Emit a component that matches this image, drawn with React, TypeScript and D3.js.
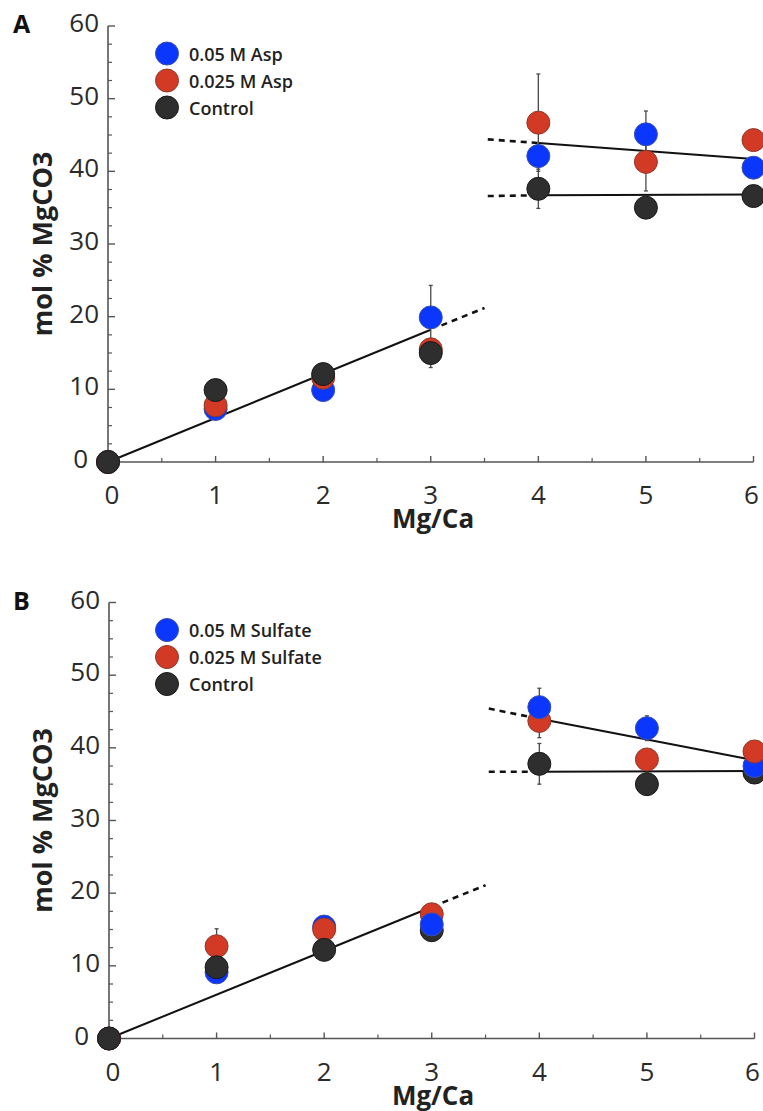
import React from "react";
import * as d3 from "d3";

// ---------- data ----------
const xValues = [0, 1, 2, 3, 4, 5, 6];
const xTickLabels = ["0", "1", "2", "3", "4", "5", "6"];
const yTickValues = [0, 10, 20, 30, 40, 50, 60];

// Panel A (aspartate)
const aspHigh = [0, 7.3, 9.9, 19.9, 42.1, 45.1, 40.5];
const aspLow = [0, 7.8, 11.6, 15.5, 46.7, 41.3, 44.3];
const controlA = [0, 9.9, 12.1, 15.0, 37.6, 35.0, 36.6];
const aspHighErr = [0, 0, 0, 4.4, 1.5, 3.2, 0];
const aspLowErr = [0, 0, 0, 1.0, 6.7, 4.0, 0];
const controlAErr = [0, 0, 0, 2.0, 2.7, 0, 0];

// Panel B (sulfate)
const sulfHigh = [0, 9.1, 15.4, 15.7, 45.6, 42.7, 37.5];
const sulfLow = [0, 12.7, 15.0, 17.1, 43.7, 38.4, 39.5];
const controlB = [0, 9.8, 12.2, 14.9, 37.8, 35.0, 36.6];
const sulfHighErr = [0, 0, 0, 0, 2.6, 1.7, 0];
const sulfLowErr = [0, 2.4, 0, 0, 2.3, 0, 0];
const controlBErr = [0, 0, 0, 0, 2.8, 1.5, 0];

// fit lines [x0, y0, x1, y1] in data units
const fitsA = [
  { seg: [0, 0, 3, 18.2], dashed: false },
  { seg: [3.1, 18.8, 3.5, 21.2], dashed: true },
  { seg: [4, 43.9, 6, 41.7], dashed: false },
  { seg: [3.53, 44.4, 4, 43.9], dashed: true },
  { seg: [4, 36.7, 6, 36.8], dashed: false },
  { seg: [3.53, 36.6, 4, 36.7], dashed: true },
];
const fitsB = [
  { seg: [0, 0, 3, 18.1], dashed: false },
  { seg: [3.1, 18.7, 3.5, 21.1], dashed: true },
  { seg: [4, 44.0, 6, 38.3], dashed: false },
  { seg: [3.53, 45.4, 4, 44.0], dashed: true },
  { seg: [4, 36.7, 6, 36.8], dashed: false },
  { seg: [3.53, 36.7, 4, 36.7], dashed: true },
];

const legendA = ["0.05 M Asp", "0.025 M Asp", "Control"];
const legendB = ["0.05 M Sulfate", "0.025 M Sulfate", "Control"];

// draw order per x (0 = high, 1 = low, 2 = control)
const orderA = [[0, 1, 2], [0, 1, 2], [0, 1, 2], [0, 1, 2], [0, 1, 2], [0, 1, 2], [0, 1, 2]];
const orderB = [[0, 1, 2], [0, 1, 2], [0, 1, 2], [2, 1, 0], [2, 1, 0], [2, 1, 0], [2, 0, 1]];

// ---------- styles ----------
const COLORS = ["#0a37fb", "#d23a26", "#2e2e2e"];
const STROKES = ["#3a4fb0", "#8e3a2c", "#1a1a1a"];
const AXIS = "#555";
const FONT = "'Open Sans', sans-serif";
const xLabelDx = [4, 0, 0, 0, 0, 0, -2];

type PanelProps = {
  letter: string;
  top: number;
  x0: number;
  series: number[][];
  errs: number[][];
  fits: { seg: number[]; dashed: boolean }[];
  legend: string[];
  order: number[][];
};

function Panel({ letter, top, x0, series, errs, fits, legend, order }: PanelProps) {
  const height = 436;
  const x = d3.scaleLinear().domain([0, 6]).range([x0, x0 + 645.5]);
  const y = d3.scaleLinear().domain([0, 60]).range([top + height, top]);
  const r = 11.5;
  const xMinor = d3.range(0.5, 6, 1);
  const yMinor = d3.range(0, 60, 2.5).filter((v) => v % 10 !== 0);
  const bottom = y(0);

  return (
    <g>
      {/* panel letter */}
      <text x={13} y={top + 7} fontFamily={FONT} fontWeight={700} fontSize={25} fill="#111">
        {letter}
      </text>
      {/* axes */}
      <line x1={x(0)} x2={x(0)} y1={y(60)} y2={bottom} stroke={AXIS} strokeWidth={1.6} />
      <line x1={x(0)} x2={x(6)} y1={bottom} y2={bottom} stroke={AXIS} strokeWidth={1.6} />
      {yTickValues.map((v) => (
        <g key={"yt" + v}>
          <line x1={x(0)} x2={x(0) + 7} y1={y(v)} y2={y(v)} stroke={AXIS} strokeWidth={1.4} />
          <text
            x={x(0) - (v === 0 ? 20 : 9)}
            y={y(v) + 6}
            textAnchor="end"
            fontFamily={FONT}
            fontSize={26}
            fill="#2a2a2a"
          >
            {v}
          </text>
        </g>
      ))}
      {yMinor.map((v) => (
        <line key={"ym" + v} x1={x(0)} x2={x(0) + 4} y1={y(v)} y2={y(v)} stroke={AXIS} strokeWidth={1.2} />
      ))}
      {xValues.map((v, i) => (
        <g key={"xt" + v}>
          <line x1={x(v)} x2={x(v)} y1={bottom} y2={bottom - 6} stroke={AXIS} strokeWidth={1.4} />
          <text
            x={x(v) + xLabelDx[i]}
            y={bottom + 42}
            textAnchor="middle"
            fontFamily={FONT}
            fontSize={26}
            fill="#2a2a2a"
          >
            {xTickLabels[i]}
          </text>
        </g>
      ))}
      {xMinor.map((v) => (
        <line key={"xm" + v} x1={x(v)} x2={x(v)} y1={bottom} y2={bottom - 4} stroke={AXIS} strokeWidth={1.2} />
      ))}
      {/* axis titles */}
      <text
        x={433}
        y={bottom + 66}
        textAnchor="middle"
        fontFamily={FONT}
        fontWeight={700}
        fontSize={26}
        fill="#222"
      >
        Mg/Ca
      </text>
      <text
        transform={`translate(41,${(top + bottom) / 2}) rotate(-90)`}
        textAnchor="middle"
        dominantBaseline="central"
        fontFamily={FONT}
        fontWeight={700}
        fontSize={27}
        fill="#222"
      >
        mol % MgCO3
      </text>
      {/* fit lines */}
      {fits.map((f, i) => (
        <line
          key={"fit" + i}
          x1={x(f.seg[0])}
          y1={y(f.seg[1])}
          x2={x(f.seg[2])}
          y2={y(f.seg[3])}
          stroke="#111"
          strokeWidth={f.dashed ? 2.6 : 2}
          strokeDasharray={f.dashed ? "6,5" : undefined}
        />
      ))}
      {/* error bars */}
      {series.map((s, si) =>
        s.map((v, i) =>
          errs[si][i] > 0 ? (
            <g key={`e${si}-${i}`} stroke="#4a4a4a" strokeWidth={1.3}>
              <line x1={x(xValues[i])} x2={x(xValues[i])} y1={y(v - errs[si][i])} y2={y(v + errs[si][i])} />
              <line x1={x(xValues[i]) - 2} x2={x(xValues[i]) + 2} y1={y(v + errs[si][i])} y2={y(v + errs[si][i])} />
              <line x1={x(xValues[i]) - 2} x2={x(xValues[i]) + 2} y1={y(v - errs[si][i])} y2={y(v - errs[si][i])} />
            </g>
          ) : null
        )
      )}
      {/* markers */}
      {xValues.map((xv, i) =>
        order[i].map((si) => (
          <circle
            key={`m${si}-${i}`}
            cx={x(xv)}
            cy={y(series[si][i])}
            r={r}
            fill={COLORS[si]}
            stroke={STROKES[si]}
            strokeWidth={1}
          />
        ))
      )}
      {/* legend */}
      {legend.map((t, i) => (
        <g key={"lg" + i}>
          <circle cx={167} cy={top + 27.5 + i * 27} r={r} fill={COLORS[i]} stroke={STROKES[i]} strokeWidth={1} />
          <text
            x={189}
            y={top + 27.5 + i * 27}
            dominantBaseline="central"
            fontFamily={FONT}
            fontWeight={600}
            fontSize={18}
            fill="#222"
          >
            {t}
          </text>
        </g>
      ))}
    </g>
  );
}

export default function App() {
  return (
    <svg
      width={763}
      height={1111}
      style={{ position: "absolute", left: 0, top: 0, background: "#fff" }}
    >
      <rect width={763} height={1111} fill="#fff" />
      <Panel
        letter="A"
        top={26}
        x0={108}
        series={[aspHigh, aspLow, controlA]}
        errs={[aspHighErr, aspLowErr, controlAErr]}
        fits={fitsA}
        legend={legendA}
        order={orderA}
      />
      <Panel
        letter="B"
        top={602.5}
        x0={109}
        series={[sulfHigh, sulfLow, controlB]}
        errs={[sulfHighErr, sulfLowErr, controlBErr]}
        fits={fitsB}
        legend={legendB}
        order={orderB}
      />
    </svg>
  );
}
